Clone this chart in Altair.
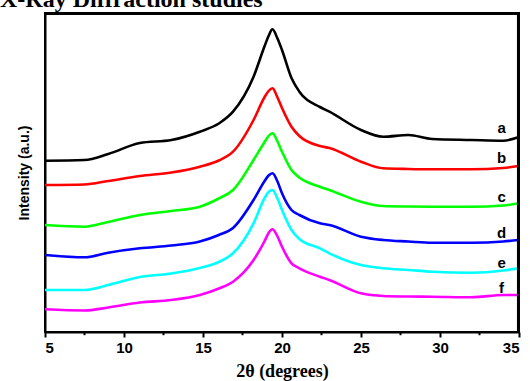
import altair as alt
import pandas as pd

# 2-theta grid (degrees)
theta = [5, 7.5, 9, 11, 13, 14.8, 16, 16.9, 18.2, 18.9, 19.15, 19.4, 19.7, 20.0,
         20.6, 21.1, 22.4, 23.0, 25.0, 26.4, 28, 29.5, 32, 34, 35]

# intensities (a.u., vertically offset curves)
a_vals = [171.3, 172, 178, 189, 192, 200.3, 208.5, 220.3, 255.3, 286, 296, 302.7, 294, 282,
          254, 240.3, 225, 220.3, 202, 195.3, 197, 193, 192, 191.3, 195]
b_vals = [147, 147.5, 151, 156, 159.5, 165.3, 171.5, 180.3, 212, 235, 241, 243.7, 235, 224,
          205.3, 196, 186, 184, 170.3, 163.7, 163, 162.7, 162.7, 164, 166]
c_vals = [107, 105.3, 110, 117, 121, 125.3, 133.5, 142, 172, 190, 196, 198.7, 191, 180.3,
          162, 154.5, 145.3, 142, 130.3, 126, 125.5, 125.3, 125.3, 126.5, 128.7]
d_vals = [77, 74.7, 79.3, 83.7, 86.5, 90.5, 97, 104, 132, 151, 156.5, 158.7, 151, 138.7,
          122, 117, 108.7, 107, 95.3, 92, 90.5, 89.3, 89.3, 90.5, 92]
e_vals = [42, 42, 47, 55, 58.5, 64, 70, 78.7, 108.7, 134, 140, 142, 134, 122,
          102, 93, 83.7, 78.7, 67, 63.7, 62, 60.3, 59.3, 61.5, 63.7]
f_vals = [22.7, 21.5, 24.5, 29.5, 32, 37, 43.5, 50.3, 72, 91, 99, 102.7, 96, 85.3,
          68.7, 63.7, 55.3, 52, 38.7, 36, 35.5, 35.3, 34.7, 37, 37]

samples = ["a", "b", "c", "d", "e", "f"]
colors = ["#000000", "#ff0000", "#00ff00", "#0000ff", "#00ffff", "#ff00ff"]

label_theta = [33.9, 33.9, 33.9, 33.9, 33.9, 33.9]
label_int = [204, 174, 135, 99, 69, 44]

x_ticks = [5, 10, 15, 20, 25, 30, 35]
minor_ticks = [7.5, 12.5, 17.5, 22.5, 27.5, 32.5]

rows = []
for s, vals in zip(samples, [a_vals, b_vals, c_vals, d_vals, e_vals, f_vals]):
    for t, v in zip(theta, vals):
        rows.append({"theta": t, "intensity": v, "sample": s})
df = pd.DataFrame(rows)
lab_df = pd.DataFrame({"theta": label_theta, "intensity": label_int, "sample": samples})

# minor tick segments (just below the x axis)
minor_rows = []
for m in minor_ticks:
    minor_rows.append({"x": m, "y": 0, "g": m, "o": 0})
    minor_rows.append({"x": m, "y": -3.2, "g": m, "o": 1})
minor_df = pd.DataFrame(minor_rows)
# top and right frame strips
strip_df = pd.DataFrame({"x0": [5, 34.87], "x1": [35, 35], "y0": [317, 0], "y1": [319, 319]})

xscale = alt.Scale(domain=[5, 35], nice=False, zero=False)
yscale = alt.Scale(domain=[0, 319], nice=False, zero=False)

lines = alt.Chart(df).mark_line(strokeWidth=2.6, interpolate="monotone").encode(
    x=alt.X("theta:Q", scale=xscale,
            axis=alt.Axis(values=x_ticks, format="d", title="2θ (degrees)",
                          labelFont="Liberation Sans", labelFontWeight="bold",
                          labelFontSize=15, labelColor="black", labelPadding=3,
                          tickSize=5, tickWidth=2, tickColor="black",
                          domainWidth=2, domainColor="black", grid=False,
                          titleFont="Liberation Serif", titleFontSize=18,
                          titleFontWeight="bold", titleColor="black", titlePadding=7)),
    y=alt.Y("intensity:Q", scale=yscale,
            axis=alt.Axis(labels=False, ticks=False, grid=False, title="Intensity (a.u.)",
                          domainWidth=2, domainColor="black",
                          titleFont="Liberation Sans", titleFontSize=14,
                          titleFontWeight="bold", titleColor="black", titlePadding=14)),
    color=alt.Color("sample:N", scale=alt.Scale(domain=samples, range=colors), legend=None),
)

labels = alt.Chart(lab_df).mark_text(font="Liberation Sans", fontWeight="bold",
                                     fontSize=15, color="black").encode(
    x=alt.X("theta:Q", scale=xscale),
    y=alt.Y("intensity:Q", scale=yscale),
    text="sample:N",
)

minor = alt.Chart(minor_df).mark_line(strokeWidth=2, color="black", clip=False).encode(
    x=alt.X("x:Q", scale=xscale),
    y=alt.Y("y:Q", scale=yscale),
    detail="g:N",
    order="o:Q",
)

strips = alt.Chart(strip_df).mark_rect(fill="black", opacity=1).encode(
    x=alt.X("x0:Q", scale=xscale),
    x2="x1:Q",
    y=alt.Y("y0:Q", scale=yscale),
    y2="y1:Q",
)

title = alt.Chart(pd.DataFrame({"t": ["X-Ray Diffraction studies"]})).mark_text(
    font="Liberation Serif", fontWeight="bold", fontSize=24, color="black",
    align="left", baseline="alphabetic").encode(
    x=alt.value(-45), y=alt.value(-6), text="t:N")

chart = alt.layer(lines, labels, minor, strips, title).properties(
    width=474, height=319,
    background="white",
    autosize=alt.AutoSizeParams(type="none"),
    padding={"left": 45, "top": 13, "right": 11, "bottom": 49},
).configure_view(stroke="black", strokeWidth=2)

chart.save("out.html", embed_options={"renderer": "svg", "actions": False})
